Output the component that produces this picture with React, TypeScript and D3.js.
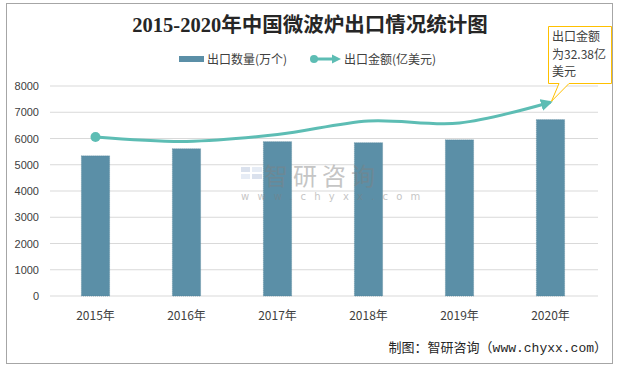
import React from "react";
import * as d3 from "d3";

const years = ["2015年", "2016年", "2017年", "2018年", "2019年", "2020年"];
const quantity = [5340, 5610, 5880, 5840, 5950, 6720];
const amountOnAxis = [6060, 5890, 6150, 6670, 6590, 7380];
const yTicks = [0, 1000, 2000, 3000, 4000, 5000, 6000, 7000, 8000];
const titleText = "2015-2020年中国微波炉出口情况统计图";
const legendBar = "出口数量(万个)";
const legendLine = "出口金额(亿美元)";
const calloutLines = ["出口金额", "为32.38亿", "美元"];
const sourceText = "制图：智研咨询（www.chyxx.com）";

const W = 620;
const H = 367;
const BAR = "#5b8fa7";
const LINE = "#5dbdb4";
const TXT = "#404040";
const CJK = "'Noto Sans CJK SC', 'Noto Sans', sans-serif";

export default function App() {
  const x = d3
    .scaleBand<string>()
    .domain(years)
    .range([50, 596])
    .paddingInner(0.69)
    .paddingOuter(0.345);
  const y = d3.scaleLinear().domain([0, 8000]).range([296, 86]);
  const cx = (i: number) => (x(years[i]) as number) + x.bandwidth() / 2;

  const pts: [number, number][] = amountOnAxis.map((v, i) => [cx(i), y(v)]);
  const line = d3.line().curve(d3.curveCardinal.tension(0))(pts) as string;

  const last = pts[pts.length - 1];
  const tip: [number, number] = [last[0], last[1]];

  return (
    <svg
      width={W}
      height={H}
      style={{ position: "absolute", left: 0, top: 0, background: "#fff" }}
      fontFamily={CJK}
    >
      <defs>
        <marker
          id="arrow"
          viewBox="0 0 10 10"
          refX="8"
          refY="5"
          markerWidth="4"
          markerHeight="4"
          orient="auto"
          markerUnits="strokeWidth"
        >
          <path d="M0,0 L10,5 L0,10 z" fill={LINE} />
        </marker>
      </defs>
      <rect x={6.5} y={3.5} width={606} height={360} fill="#fff" stroke="#a6a6a6" />

      <text
        x={310}
        y={32}
        textAnchor="middle"
        fontSize={20.5}
        fontWeight="bold"
        fill="#262626"
        fontFamily="'Liberation Serif', 'Noto Sans CJK SC', serif"
      >
        {titleText}
      </text>

      {/* legend */}
      <rect x={179} y={56} width={25} height={6} fill={BAR} />
      <text x={207} y={63.5} fontSize={12} fill={TXT}>
        {legendBar}
      </text>
      <line x1={313} y1={59} x2={334} y2={59} stroke={LINE} strokeWidth={3} />
      <circle cx={314} cy={59} r={4} fill={LINE} />
      <path d="M332,54.5 L341,59 L332,63.5 z" fill={LINE} />
      <text x={344} y={63.5} fontSize={12} fill={TXT}>
        {legendLine}
      </text>

      {/* grid + y labels */}
      {yTicks.map((t) => (
        <g key={t}>
          <line x1={50} x2={598} y1={y(t)} y2={y(t)} stroke="#d9d9d9" strokeWidth={1} />
          <text
            x={39}
            y={y(t) + 4}
            textAnchor="end"
            fontSize={11}
            fill={TXT}
            fontFamily="'Liberation Sans', 'Noto Sans', sans-serif"
          >
            {t}
          </text>
        </g>
      ))}

      {/* bars */}
      {quantity.map((v, i) => (
        <rect
          key={years[i]}
          x={x(years[i])}
          y={y(v)}
          width={x.bandwidth()}
          height={y(0) - y(v)}
          fill={BAR}
          stroke="#4f7f96"
          strokeWidth={0.6}
          strokeDasharray="1,1"
        />
      ))}

      {/* x labels */}
      {years.map((yr, i) => (
        <text
          key={yr}
          x={cx(i)}
          y={320}
          textAnchor="middle"
          fontSize={12}
          fill={TXT}
        >
          {yr}
        </text>
      ))}

      {/* watermark */}
      <g opacity={0.45}>
        <rect x={241} y={167} width={9} height={5} fill="#aebed8" />
        <rect x={252} y={167} width={10} height={5} fill="#c9d6ea" />
        <rect x={241} y={174} width={9} height={5} fill="#c9d6ea" />
        <rect x={252} y={174} width={10} height={5} fill="#aebed8" />
        <text x={264} y={185} fontSize={24} fill="#808080" letterSpacing={5}>
          智研咨询
        </text>
        <text
          x={241}
          y={200}
          fontSize={10}
          fill="#808080"
          letterSpacing={8.2}
          fontFamily="'DejaVu Sans', sans-serif"
        >
          www.chyxx.com
        </text>
      </g>

      {/* line */}
      <path
        d={line}
        fill="none"
        stroke={LINE}
        strokeWidth={3}
        markerEnd="url(#arrow)"
      />
      <circle cx={pts[0][0]} cy={pts[0][1]} r={5} fill={LINE} />

      {/* callout */}
      <path
        d={`M548.5,26.5 L611.5,26.5 L611.5,83.5 L569,83.5 L${tip[0] + 1},${tip[1] - 1} L559,83.5 L548.5,83.5 Z`}
        fill="#fff"
        stroke="#ffc000"
        strokeWidth={1}
      />
      {calloutLines.map((s, i) => (
        <text key={s} x={552} y={41 + i * 17.6} fontSize={12} fill={TXT}>
          {s}
        </text>
      ))}

      {/* source */}
      <text
        x={607}
        y={352}
        textAnchor="end"
        fontSize={13}
        fill="#262626"
        fontFamily="'Liberation Mono', 'Noto Sans CJK SC', monospace"
      >
        {sourceText}
      </text>
    </svg>
  );
}
